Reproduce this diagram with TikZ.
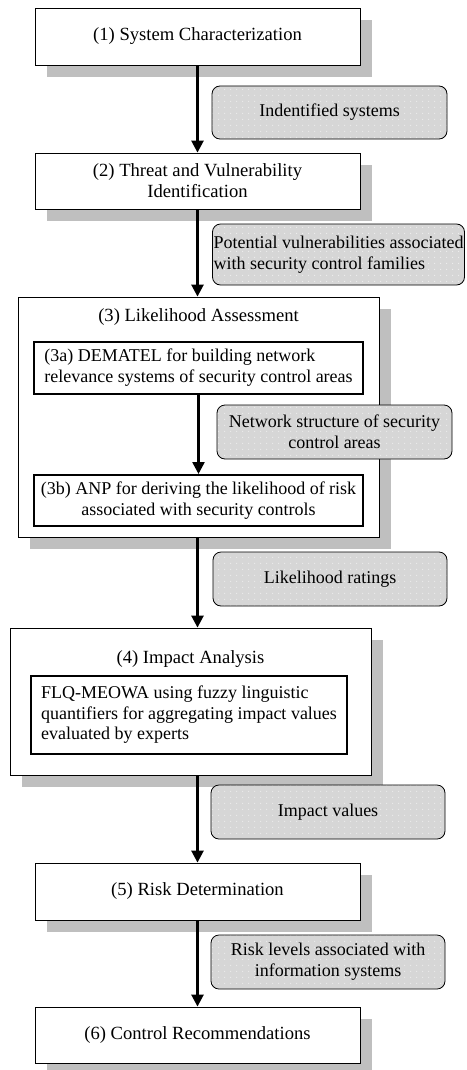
\documentclass[tikz,border=0pt]{standalone}
\usepackage{fontspec}
\setmainfont{Liberation Serif}
\usetikzlibrary{shadows,arrows.meta,patterns.meta}
\pgfdeclarepattern{name=sparsedots, type=uncolored, bottom left={\pgfpoint{0pt}{0pt}}, top right={\pgfpoint{6pt}{6pt}}, tile size={\pgfpoint{6pt}{6pt}}, code={\pgfpathcircle{\pgfpoint{3pt}{3pt}}{0.8pt}\pgfusepath{fill}}}
\begin{document}
\begin{tikzpicture}[x=1pt,y=-1pt,
 every node/.style={font=\fontsize{18.6}{21}\selectfont},
 box/.style={draw, line width=0.8pt, fill=white, inner sep=0pt, align=center,
   drop shadow={shadow xshift=12pt, shadow yshift=-12pt, fill=gray!50, opacity=1}},
 subbox/.style={draw, line width=2pt, fill=white, inner sep=0pt},
 lab/.style={rounded corners=8pt, fill=gray!32, inner sep=0pt,
   font=\fontsize{18}{21}\selectfont,
   postaction={pattern=sparsedots, pattern color=white!85!gray},
   postaction={draw=black, line width=0.8pt}},
 arr/.style={line width=2.5pt, -{Triangle[width=12pt,length=12pt]}}]
\useasboundingbox (0,0) rectangle (466,1070);
% main boxes
\node[box, minimum width=325pt, minimum height=57pt] (b1) at (197.5,36.5) {(1) System Characterization};
\node[box, minimum width=325pt, minimum height=56pt] (b2) at (197.5,181) {(2) Threat and Vulnerability\\Identification};
\node[box, minimum width=361pt, minimum height=240pt] (b3) at (198.5,417) {};
\node (t3) at (198.5,317) {(3) Likelihood Assessment};
\node[subbox, minimum width=329pt, minimum height=52pt, align=left, font=\fontsize{18}{21}\selectfont] (b3a) at (198.5,368) {(3a) DEMATEL for building network\\ relevance systems of security control areas};
\node[subbox, minimum width=329pt, minimum height=51pt, align=center, font=\fontsize{18}{21}\selectfont] (b3b) at (198.5,500.5) {(3b) ANP for deriving the likelihood of risk\\associated with security controls};
\node[box, minimum width=361pt, minimum height=147pt] (b4) at (190.5,701.5) {};
\node (t4) at (190.5,659) {(4) Impact Analysis};
\node[subbox, minimum width=316pt, minimum height=78pt, align=left, font=\fontsize{18}{20.5}\selectfont] (b4a) at (189,715) {FLQ-MEOWA using fuzzy linguistic\\quantifiers for aggregating impact values\\evaluated by experts};
\node[box, minimum width=325pt, minimum height=57pt] (b5) at (197.5,891.5) {(5) Risk Determination};
\node[box, minimum width=325pt, minimum height=56pt] (b6) at (197.5,1035) {(6) Control Recommendations};
% arrows
\draw[arr] (b1.south) -- (b2.north);
\draw[arr] (b2.south) -- (b3.north -| b2.south);
\draw[arr] (b3a.south) -- (b3b.north);
\draw[arr] (b3.south -| b1.south) -- (b4.north -| b1.south);
\draw[arr] (b4.south -| b5.north) -- (b5.north);
\draw[arr] (b5.south) -- (b6.north);
% labels
\node[lab, minimum width=235pt, minimum height=53pt] (l1) at (329.5,112.5) {Indentified systems};
\node[lab, minimum width=252pt, minimum height=61pt, align=left] (l2) at (338.5,254.5) {Potential vulnerabilities associated\\with security control families};
\node[lab, minimum width=235pt, minimum height=54pt, align=center] (l3) at (334.5,432) {Network structure of security\\control areas};
\node[lab, minimum width=234pt, minimum height=54pt] (l4) at (330,579) {Likelihood ratings};
\node[lab, minimum width=234pt, minimum height=54pt] (l5) at (328,812) {Impact values};
\node[lab, minimum width=234pt, minimum height=54pt, align=center] (l6) at (328,962) {Risk levels associated with\\information systems};
\end{tikzpicture}
\end{document}
